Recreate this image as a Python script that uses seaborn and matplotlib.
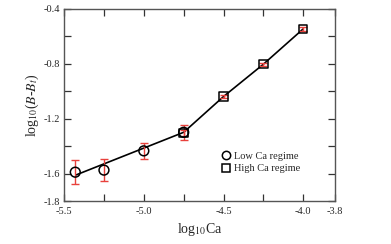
import matplotlib
matplotlib.use("Agg")
import matplotlib.pyplot as plt
import numpy as np
import pandas as pd
import seaborn as sns
from matplotlib.lines import Line2D
from matplotlib.ticker import MultipleLocator

# data
low_x = [-5.43, -5.25, -5.0, -4.75]
low_y = [-1.59, -1.575, -1.435, -1.30]
low_err = [0.085, 0.08, 0.06, 0.055]

high_x = [-4.75, -4.5, -4.25, -4.0]
high_y = [-1.305, -1.04, -0.805, -0.548]
high_err = [0.02, 0.01, 0.012, 0.012]

fit_x = [-5.425, -4.75, -4.5, -4.25, -4.0]
fit_y = [-1.61, -1.30, -1.04, -0.805, -0.548]

sns.set_style("ticks")
plt.rcParams["font.family"] = ["Liberation Serif", "DejaVu Serif"]
plt.rcParams["mathtext.fontset"] = "stix"

fig = plt.figure(figsize=(3.91, 2.44), dpi=100)
ax = fig.add_axes([0.164, 0.176, 0.693, 0.789])

fit_df = pd.DataFrame({"x": fit_x, "y": fit_y})
sns.lineplot(data=fit_df, x="x", y="y", ax=ax, color="black", linewidth=1.2,
             sort=False, zorder=2)

ax.errorbar(low_x, low_y, yerr=low_err, fmt="none", ecolor="#e8413c",
            elinewidth=1.0, capsize=3, capthick=1.0, zorder=3)
ax.errorbar(high_x, high_y, yerr=high_err, fmt="none", ecolor="#e8413c",
            elinewidth=1.0, capsize=3, capthick=1.0, zorder=3)

low_df = pd.DataFrame({"x": low_x, "y": low_y})
high_df = pd.DataFrame({"x": high_x, "y": high_y})
sns.scatterplot(data=low_df, x="x", y="y", ax=ax, marker="o", s=50,
                facecolor="none", edgecolor="black", linewidth=1.1, zorder=4)
sns.scatterplot(data=high_df, x="x", y="y", ax=ax, marker="s", s=36,
                facecolor="none", edgecolor="black", linewidth=1.1, zorder=4)

ax.set_xlim(-5.5, -3.8)
ax.set_ylim(-1.8, -0.4)
ax.set_xticks([-5.5, -5.0, -4.5, -4.0, -3.8])
ax.set_xticklabels(["-5.5", "-5.0", "-4.5", "-4.0", "-3.8"])
ax.xaxis.set_minor_locator(MultipleLocator(0.25))
ax.set_yticks([-1.8, -1.6, -1.2, -0.8, -0.4])
ax.set_yticklabels(["-1.8", "-1.6", "-1.2", "-0.8", "-0.4"])
ax.yaxis.set_minor_locator(MultipleLocator(0.2))

ax.tick_params(which="both", direction="in", top=True, right=True,
               color="#333333", width=0.9)
ax.tick_params(which="major", length=5, labelsize=7.5)
ax.tick_params(axis="x", which="major", pad=4)
ax.tick_params(axis="y", which="major", pad=3)
ax.tick_params(which="minor", length=5)
for s in ax.spines.values():
    s.set_color("#555555")
    s.set_linewidth(1.0)

ax.set_xlabel(r"log$_{10}$Ca", fontsize=10, labelpad=4)
ax.set_ylabel(r"log$_{10}$($B$-$B_t$)", fontsize=10, labelpad=2)

handles = [
    Line2D([], [], marker="o", linestyle="none", markerfacecolor="none",
           markeredgecolor="black", markersize=6, markeredgewidth=1.1),
    Line2D([], [], marker="s", linestyle="none", markerfacecolor="none",
           markeredgecolor="black", markersize=5.5, markeredgewidth=1.1),
]
ax.legend(handles, ["Low Ca regime", "High Ca regime"], loc="center left",
          bbox_to_anchor=(0.56, 0.2), frameon=False, fontsize=7.5,
          handletextpad=0.1, labelspacing=0.3, handlelength=1.2,
          borderaxespad=0)

fig.savefig("out.png", dpi=100, facecolor="white")
